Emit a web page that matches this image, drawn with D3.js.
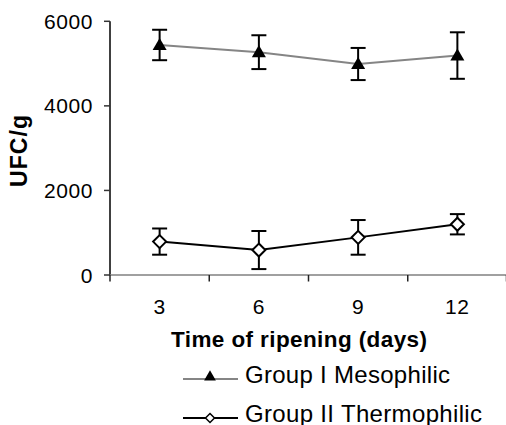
<!DOCTYPE html>
<html>
<head>
<meta charset="utf-8">
<script src="https://cdn.jsdelivr.net/npm/d3@7"></script>
<style>
    body { margin: 0; background: #fff; }
    text { font-family: "Liberation Sans", Arial, sans-serif; fill: #000; }
</style>
</head>
<body>
<div id="chart"></div>
<script>
"use strict";

var days = ["3", "6", "9", "12"];
var yTicks = [0, 2000, 4000, 6000];

var mesoMean = [5440, 5270, 4990, 5190];
var mesoErr = [360, 400, 380, 550];
var thermoMean = [790, 590, 890, 1200];
var thermoErr = [310, 450, 410, 240];

var seriesNames = ["Group I Mesophilic", "Group II Thermophilic"];

var width = 506, height = 425;

var svg = d3.select("#chart")
    .append("svg")
    .attr("width", width)
    .attr("height", height);

var xScale = d3.scaleBand()
    .domain(days)
    .range([110, 507]);

var yScale = d3.scaleLinear()
    .domain([0, 6000])
    .range([275, 21.3]);

// y axis
svg.append("line")
    .attr("x1", 110).attr("x2", 110)
    .attr("y1", yScale(6000)).attr("y2", yScale(0))
    .style("stroke", "#000")
    .style("stroke-width", 1.5);

svg.selectAll(".ytick")
    .data(yTicks)
    .enter()
    .append("line")
    .attr("class", "ytick")
    .attr("x1", 104).attr("x2", 110)
    .attr("y1", function(d){ return yScale(d); })
    .attr("y2", function(d){ return yScale(d); })
    .style("stroke", "#333")
    .style("stroke-width", 1.5);

svg.selectAll(".ylabel")
    .data(yTicks)
    .enter()
    .append("text")
    .attr("class", "ylabel")
    .attr("x", 93)
    .attr("y", function(d){ return yScale(d); })
    .attr("dy", "0.36em")
    .attr("text-anchor", "end")
    .style("font-size", "21px")
    .style("letter-spacing", "0.6px")
    .text(function(d){ return d; });

// x axis
svg.append("line")
    .attr("x1", 110).attr("x2", 507)
    .attr("y1", yScale(0)).attr("y2", yScale(0))
    .style("stroke", "#808080")
    .style("stroke-width", 1.5);

var bounds = days.map(function(d){ return xScale(d); }).concat([xScale.range()[1] - 0.5]);

svg.selectAll(".xtick")
    .data(bounds)
    .enter()
    .append("line")
    .attr("class", "xtick")
    .attr("x1", function(d){ return d; })
    .attr("x2", function(d){ return d; })
    .attr("y1", yScale(0))
    .attr("y2", yScale(0) + 6.5)
    .style("stroke", "#222")
    .style("stroke-width", 1.5);

svg.selectAll(".xlabel")
    .data(days)
    .enter()
    .append("text")
    .attr("class", "xlabel")
    .attr("x", function(d){ return xScale(d) + xScale.bandwidth() / 2; })
    .attr("y", 314)
    .attr("text-anchor", "middle")
    .style("font-size", "21px")
    .style("letter-spacing", "0.6px")
    .text(function(d){ return d; });

// axis titles
svg.append("text")
    .attr("x", 171)
    .attr("y", 347)
    .attr("textLength", 256)
    .attr("lengthAdjust", "spacing")
    .style("font-size", "22.5px")
    .style("font-weight", "bold")
    .text("Time of ripening (days)");

svg.append("text")
    .attr("transform", "translate(27,187) rotate(-90)")
    .attr("textLength", 72)
    .attr("lengthAdjust", "spacing")
    .style("font-size", "23px")
    .style("font-weight", "bold")
    .text("UFC/g");

function cx(d, i){
    return xScale(days[i]) + xScale.bandwidth() / 2;
}

var triangle = d3.symbol().type(d3.symbolTriangle);
var diamond = "M0,-6.5L6.5,0L0,6.5L-6.5,0Z";

function drawSeries(means, errs, lineColor, cls)
{
    var line = d3.line()
        .x(cx)
        .y(function(d){ return yScale(d); });

    svg.append("path")
        .datum(means)
        .attr("d", line)
        .style("fill", "none")
        .style("stroke", lineColor)
        .style("stroke-width", 2);

    var g = svg.selectAll("." + cls)
        .data(means)
        .enter()
        .append("g")
        .attr("class", cls);

    g.append("line")
        .attr("x1", cx).attr("x2", cx)
        .attr("y1", function(d, i){ return yScale(d + errs[i]); })
        .attr("y2", function(d, i){ return yScale(d - errs[i]); })
        .style("stroke", "#000")
        .style("stroke-width", 2);

    [1, -1].forEach(function(s){
        g.append("line")
            .attr("x1", function(d, i){ return cx(d, i) - 7.5; })
            .attr("x2", function(d, i){ return cx(d, i) + 7.5; })
            .attr("y1", function(d, i){ return yScale(d + s * errs[i]); })
            .attr("y2", function(d, i){ return yScale(d + s * errs[i]); })
            .style("stroke", "#000")
            .style("stroke-width", 2);
    });
}

drawSeries(mesoMean, mesoErr, "#858585", "meso");
drawSeries(thermoMean, thermoErr, "#000", "thermo");

svg.selectAll(".tri")
    .data(mesoMean)
    .enter()
    .append("path")
    .attr("class", "tri")
    .attr("d", triangle.size(85))
    .attr("transform", function(d, i){ return "translate(" + cx(d, i) + "," + (yScale(d) + 1) + ")"; })
    .style("fill", "#000");

svg.selectAll(".dia")
    .data(thermoMean)
    .enter()
    .append("path")
    .attr("class", "dia")
    .attr("d", diamond)
    .attr("transform", function(d, i){ return "translate(" + cx(d, i) + "," + yScale(d) + ")"; })
    .style("fill", "#fff")
    .style("stroke", "#000")
    .style("stroke-width", 2);

// legend
var legendY = [379, 418];
var legendLen = [205, 237];

svg.selectAll(".legline")
    .data(seriesNames)
    .enter()
    .append("line")
    .attr("class", "legline")
    .attr("x1", 183).attr("x2", 238)
    .attr("y1", function(d, i){ return legendY[i]; })
    .attr("y2", function(d, i){ return legendY[i]; })
    .style("stroke", function(d, i){ return i == 0 ? "#858585" : "#000"; })
    .style("stroke-width", 2);

svg.append("path")
    .attr("d", triangle.size(60))
    .attr("transform", "translate(210," + (legendY[0] - 2) + ")")
    .style("fill", "#000");

svg.append("path")
    .attr("d", "M0,-4.5L4.5,0L0,4.5L-4.5,0Z")
    .attr("transform", "translate(210," + legendY[1] + ")")
    .style("fill", "#fff")
    .style("stroke", "#000")
    .style("stroke-width", 1.5);

svg.selectAll(".legtext")
    .data(seriesNames)
    .enter()
    .append("text")
    .attr("class", "legtext")
    .attr("x", 245)
    .attr("y", function(d, i){ return legendY[i] + 4; })
    .attr("textLength", function(d, i){ return legendLen[i]; })
    .attr("lengthAdjust", "spacing")
    .style("font-size", "24px")
    .text(function(d){ return d; });
</script>
</body>
</html>
